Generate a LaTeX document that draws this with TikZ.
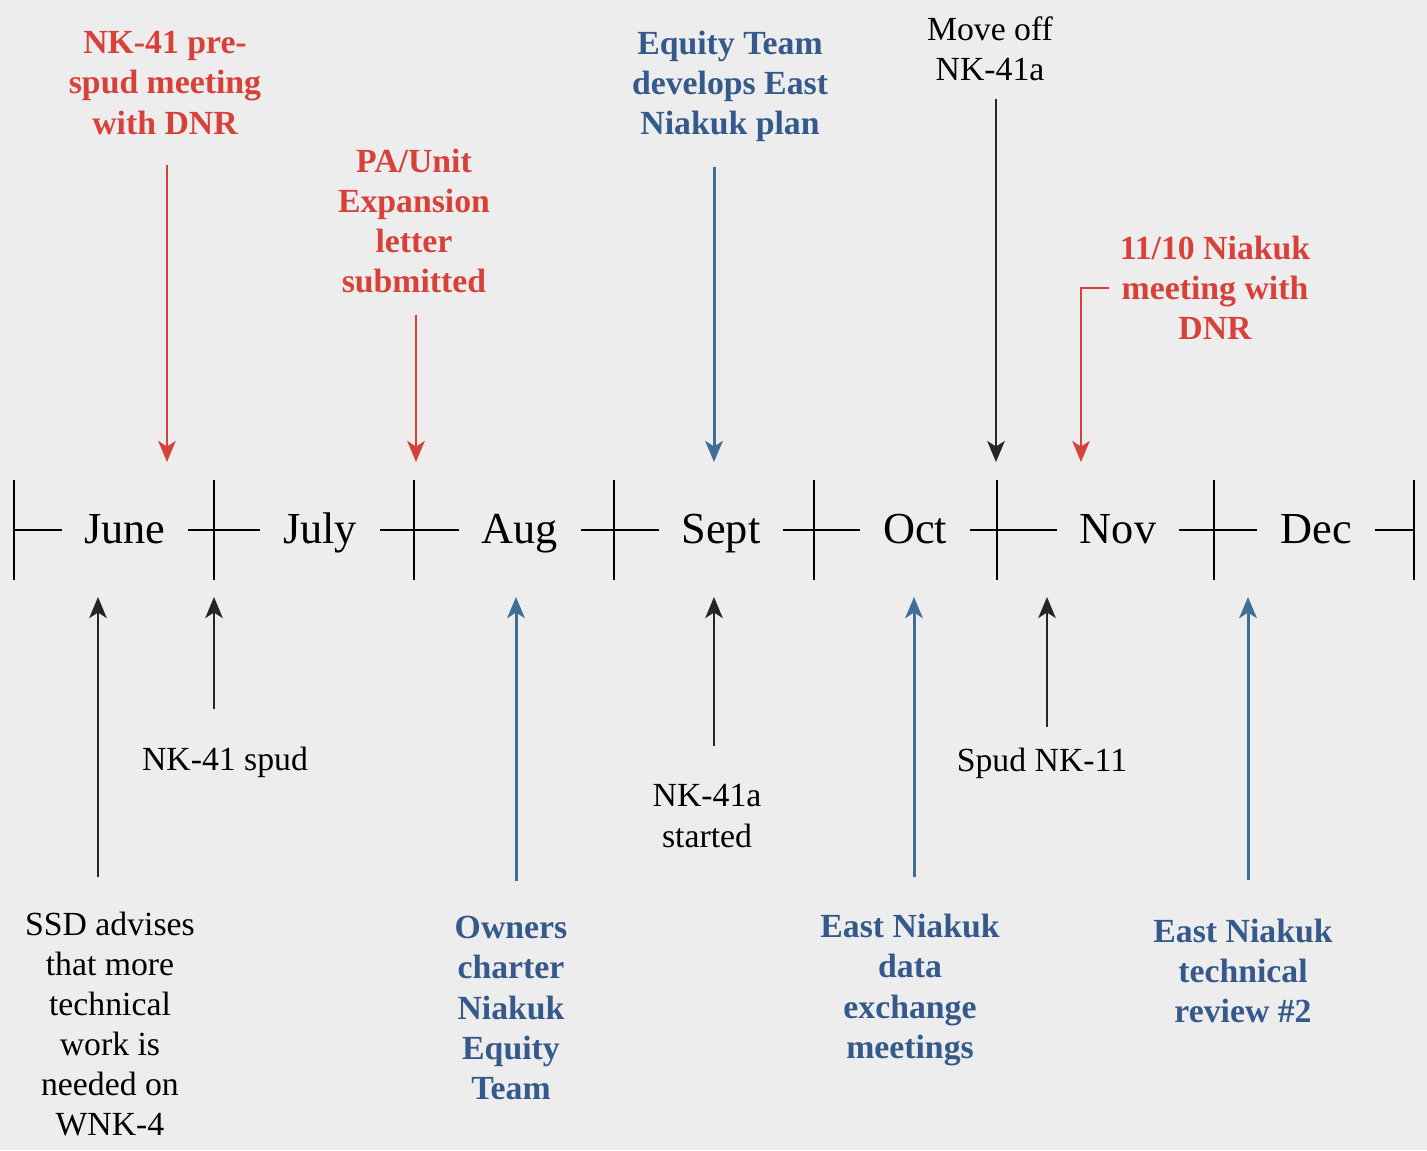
\documentclass[tikz,border=0pt]{standalone}
\usepackage{fontspec}
\setmainfont{Liberation Serif}
\usetikzlibrary{arrows.meta}
\definecolor{bgpaper}{HTML}{EDEDED}
\definecolor{evred}{HTML}{D8413A}
\definecolor{evblue}{HTML}{34598A}
\definecolor{arblue}{HTML}{3F6E96}

\begin{document}
\begin{tikzpicture}[x=0.01cm,y=-0.01cm,
  every node/.style={font=\fontsize{9.6}{11.4}\selectfont, align=center, inner sep=0pt},
  month/.style={font=\fontsize{12.6}{15}\selectfont, text height=9pt, text depth=1.6pt, inner xsep=6.3pt},
  redlbl/.style={text=evred, font=\fontsize{9.6}{11.4}\selectfont\bfseries},
  bluelbl/.style={text=evblue, font=\fontsize{9.6}{11.4}\selectfont\bfseries},
  tip/.style={-{Stealth[length=6pt,width=5pt,inset=1.6pt]}},
  blkarr/.style={tip, line width=0.55pt, black!85},
  redarr/.style={tip, line width=0.7pt, evred},
  bluarr/.style={tip, line width=0.85pt, arblue}]
\fill[bgpaper] (0,0) rectangle (1427,1150);
\useasboundingbox (0,0) rectangle (1427,1150);

% time line
\foreach \x [count=\i from 0] in {14,214,414,614,814,997,1214,1414} {
  \coordinate (t\i) at (\x,530);
  \draw[line width=0.6pt] (\x,480) -- (\x,580);
}
\node[month] (june) at (125,530) {June};
\node[month] (july) at (320,530) {July};
\node[month] (aug)  at (520,530) {Aug};
\node[month] (sept) at (721,530) {Sept};
\node[month] (oct)  at (915,530) {Oct};
\node[month] (nov)  at (1118,530) {Nov};
\node[month] (dec)  at (1316,530) {Dec};
\draw[line width=0.6pt] (t0) -- (june) -- (t1) -- (july) -- (t2) -- (aug) -- (t3) -- (sept)
  -- (t4) -- (oct) -- (t5) -- (nov) -- (t6) -- (dec) -- (t7);

% events above
\node[redlbl] (prespud) at (165,83) {NK-41 pre-\\spud meeting\\with DNR};
\node[redlbl] (paunit) at (414,221) {PA/Unit\\Expansion\\letter\\submitted};
\node[bluelbl] (plan) at (730,86) {Equity Team\\develops East\\Niakuk plan};
\node (moveoff) at (990,49) {Move off\\NK-41a};
\node[redlbl] (mtg) at (1215,288) {11/10 Niakuk\\meeting with\\DNR};

\coordinate (hA) at (167,462);
\coordinate (hB) at (416,462);
\coordinate (hC) at (714,462);
\coordinate (hD) at (996,462);
\coordinate (hE) at (1081,462);
\draw[redarr, shorten <=8.5pt] (prespud.south -| hA) -- (hA);
\draw[redarr, shorten <=6pt] (paunit.south -| hB) -- (hB);
\draw[bluarr, shorten <=7pt] (plan.south -| hC) -- (hC);
\draw[blkarr, shorten <=4.8pt] (moveoff.south -| hD) -- (hD);
\draw[redarr, shorten <=3pt] (mtg.west) -| (hE);

% events below
\node (ssd) at (110,1024) {SSD advises\\that more\\technical\\work is\\needed on\\WNK-4};
\node (spud41) at (225,762) {NK-41 spud};
\node[bluelbl] (owners) at (511,1008) {Owners\\charter\\Niakuk\\Equity\\Team};
\node (started) at (707,816) {NK-41a\\started};
\node[bluelbl] (exch) at (910,990) {East Niakuk\\data\\exchange\\meetings};
\node (spud11) at (1042,763) {Spud NK-11};
\node[bluelbl] (review) at (1243,971) {East Niakuk\\technical\\review \#2};

\coordinate (bA) at (98,597);
\coordinate (bB) at (214,597);
\coordinate (bC) at (516,597);
\coordinate (bD) at (714,597);
\coordinate (bE) at (914,597);
\coordinate (bF) at (1047,597);
\coordinate (bG) at (1248,597);
\draw[blkarr, shorten <=9.7pt] (ssd.north -| bA) -- (bA);
\draw[blkarr, shorten <=10.5pt] (spud41.north -| bB) -- (bB);
\draw[bluarr, shorten <=10pt] (owners.north -| bC) -- (bC);
\draw[blkarr, shorten <=10.8pt] (started.north -| bD) -- (bD);
\draw[bluarr, shorten <=10.5pt] (exch.north -| bE) -- (bE);
\draw[blkarr, shorten <=5.7pt] (spud11.north -| bF) -- (bF);
\draw[bluarr, shorten <=10.8pt] (review.north -| bG) -- (bG);
\end{tikzpicture}
\end{document}
